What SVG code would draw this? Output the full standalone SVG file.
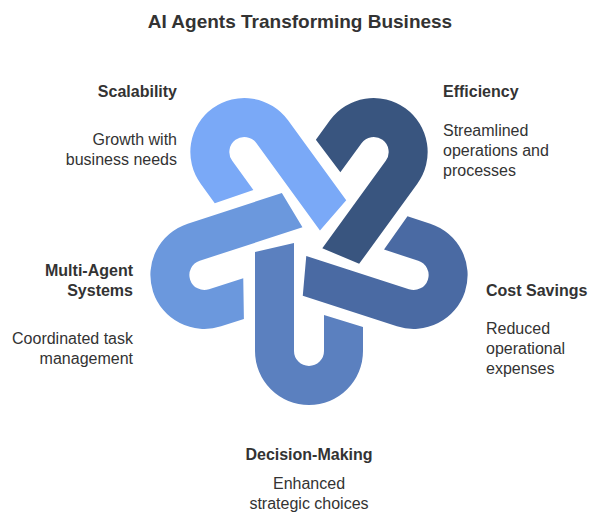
<svg xmlns="http://www.w3.org/2000/svg" width="600" height="523" viewBox="0 0 600 523">
<style>
text{font-family:"Liberation Sans",Arial,sans-serif;fill:#333;}
.t{font-size:19px;font-weight:bold;text-anchor:middle}
.h{font-size:16px;font-weight:bold}
.b{font-size:16px}
.r{text-anchor:end}.m{text-anchor:middle}
</style>
<defs>
<path id="u" d="M255,252 L294,243 L294,351 A15,15 0 0 0 324,351 L324,315 L363,327 L363,351 A54,54 0 0 1 255,351 Z"/>
</defs>
<rect width="600" height="523" fill="#fff"/>
<text class="t" x="300" y="28">AI Agents Transforming Business</text>
<g id="decision"><use href="#u" fill="#5b80bf"/></g>
<g id="cost"><use href="#u" fill="#4a6aa3" transform="rotate(-72 309 241)"/></g>
<g id="efficiency"><use href="#u" fill="#39557f" transform="rotate(-144 309 241)"/></g>
<g id="scalability"><use href="#u" fill="#7aa9f7" transform="rotate(-216 309 241)"/></g>
<g id="multiagent"><use href="#u" fill="#6b98dd" transform="rotate(-288 309 241)"/></g>
<g id="labels">
<text class="h r" x="177" y="97">Scalability</text>
<text class="b r" x="177" y="145">Growth with</text>
<text class="b r" x="177" y="165">business needs</text>
<text class="h" x="443" y="97">Efficiency</text>
<text class="b" x="443" y="136">Streamlined</text>
<text class="b" x="443" y="156">operations and</text>
<text class="b" x="443" y="176">processes</text>
<text class="h" x="486" y="296">Cost Savings</text>
<text class="b" x="486" y="334">Reduced</text>
<text class="b" x="486" y="354">operational</text>
<text class="b" x="486" y="374">expenses</text>
<text class="h r" x="133" y="276">Multi-Agent</text>
<text class="h r" x="133" y="296">Systems</text>
<text class="b r" x="133" y="344">Coordinated task</text>
<text class="b r" x="133" y="364">management</text>
<text class="h m" x="309" y="460">Decision-Making</text>
<text class="b m" x="309" y="489">Enhanced</text>
<text class="b m" x="309" y="509">strategic choices</text>
</g>
</svg>
